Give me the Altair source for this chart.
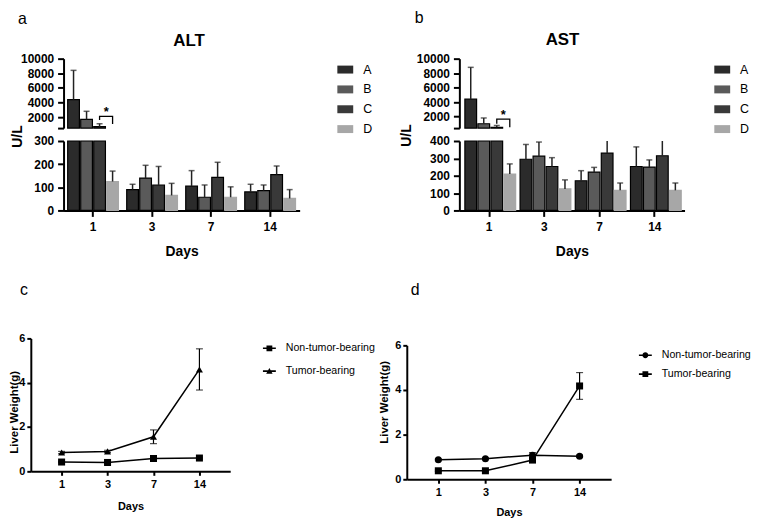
import altair as alt
import pandas as pd

FONT = "Liberation Sans"

days = ["1", "3", "7", "14"]
groups = ["A", "B", "C", "D"]
bar_colors = ["#2b2b2b", "#5a5a5a", "#393939", "#a7a7a7"]

# ALT (U/L): bar height and top of the error bar for days 1, 3, 7, 14
alt_mean = {"A": [4400, 90, 105, 80], "B": [1700, 140, 57, 86],
            "C": [700, 110, 143, 155], "D": [125, 65, 57, 52]}
alt_top = {"A": [8400, 113, 172, 113], "B": [2800, 195, 110, 110],
           "C": [1100, 190, 208, 192], "D": [170, 117, 102, 90]}

# AST (U/L)
ast_mean = {"A": [4400, 295, 171, 253], "B": [1000, 313, 221, 250],
            "C": [520, 253, 330, 315], "D": [210, 124, 116, 116]}
ast_top = {"A": [8800, 380, 229, 366], "B": [1800, 394, 248, 291],
           "C": [760, 304, 430, 440], "D": [268, 176, 158, 158]}

# significance bracket C -> D on day 1 (left leg, bar, bar, right leg)
alt_bracket = [1600, 2100, 2100, 1050]
ast_bracket = [1000, 1650, 1650, 530]

# liver weight (g), mean and SD
series = ["Non-tumor-bearing", "Tumor-bearing"]
c_mean = {"Non-tumor-bearing": [0.42, 0.40, 0.58, 0.60],
          "Tumor-bearing": [0.85, 0.90, 1.56, 4.60]}
c_sd = {"Non-tumor-bearing": [0.03, 0.03, 0.04, 0.04],
        "Tumor-bearing": [0.05, 0.05, 0.31, 0.93]}
d_mean = {"Non-tumor-bearing": [0.87, 0.92, 1.08, 1.03],
          "Tumor-bearing": [0.38, 0.38, 0.86, 4.18]}
d_sd = {"Non-tumor-bearing": [0.04, 0.04, 0.12, 0.05],
        "Tumor-bearing": [0.03, 0.04, 0.10, 0.60]}

# legend keys: a short line with the marker on it (all filled, same winding)
LINE = "M-1,-0.12H1V0.12H-1Z"
SQ = LINE + "M-0.45,-0.45H0.45V0.45H-0.45Z"
TRI = LINE + "M0,-0.5L0.5,0.4H-0.5Z"
CIR = LINE + "M0.45,0A0.45,0.45,0,1,1,-0.45,0A0.45,0.45,0,1,1,0.45,0Z"


def bar_panel(mean, top, bracket, name, letter, width, pads, up_min, low_max,
              low_ticks, name_x, name_y, ul_x, ul_y, legend_x, title_dx, title_off):
    df = pd.DataFrame([{"day": d, "group": g, "mean": mean[g][i], "top": top[g][i]}
                       for g in groups for i, d in enumerate(days)])
    br = pd.DataFrame({"day": "1", "group": ["C", "C", "D", "D"], "v": bracket, "i": [0, 1, 2, 3]})
    star = pd.DataFrame({"day": ["1"], "group": ["D"], "v": [bracket[1]]})

    xs = alt.Scale(type="band", domain=days, paddingInner=pads[0], paddingOuter=pads[1])
    x_axis = alt.Axis(title="Days", titleFontSize=14, titleY=45, titleBaseline="alphabetic",
                      labelFontSize=12, labelAngle=0, tickSize=6, labelPadding=5)
    x = alt.X("day:N", scale=xs, axis=x_axis)
    xo = alt.XOffset("group:N", scale=alt.Scale(domain=groups, paddingInner=0.1))
    up = alt.Scale(domain=[up_min, 10000], range=[70, 0], zero=False, nice=False, clamp=True)
    low = alt.Scale(domain=[0, low_max], range=[153, 83], nice=False, clamp=True)
    up_axis = alt.Axis(orient="left", values=[up_min, 2000, 4000, 6000, 8000, 10000], format="d",
                       labelExpr=f"datum.value == {up_min} ? '' : datum.label",
                       labelFontSize=12, tickSize=6, labelPadding=4,
                       title=name, titleAngle=0, titleAlign="center", titleBaseline="alphabetic",
                       titleX=name_x, titleY=name_y, titleFontSize=17)
    low_axis = alt.Axis(orient="left", values=low_ticks, format="d",
                        labelFontSize=12, tickSize=6, labelPadding=4,
                        title="U/L", titleAngle=270, titleAlign="center", titleBaseline="middle",
                        titleX=ul_x, titleY=ul_y, titleFontSize=14)
    legend = alt.Legend(title=None, orient="none", legendX=legend_x, legendY=3,
                        symbolType="M-1,-0.5H1V0.5H-1Z", symbolSize=256, symbolStrokeWidth=0,
                        labelFontSize=12.5, labelOffset=10, rowPadding=5)
    color = alt.Color("group:N", scale=alt.Scale(domain=groups, range=bar_colors), legend=legend)
    stroke = alt.condition("datum.group == 'D'", alt.value("#a7a7a7"), alt.value("black"))

    def uy(field):
        return alt.Y(field, scale=up, axis=up_axis, title=name, stack=False)

    def ly(field):
        return alt.Y(field, scale=low, axis=low_axis, title="U/L", stack=False)

    base = alt.Chart(df)
    day1 = "datum.day == '1' && datum.group != 'D'"
    upper = alt.layer(
        base.transform_filter(day1).mark_bar(strokeWidth=1.2).encode(
            x=x, xOffset=xo, y=uy("mean:Q"), y2=alt.datum(up_min), color=color, stroke=stroke),
        base.transform_filter(day1).mark_rule(color="#222", strokeWidth=1.5).encode(
            x=x, xOffset=xo, y=uy("mean:Q"), y2="top:Q"),
        base.transform_filter(day1).mark_tick(color="#222", size=6, thickness=1.5).encode(
            x=x, xOffset=xo, y=uy("top:Q")),
        alt.Chart(br).mark_line(color="black", strokeWidth=1.3).encode(
            x=x, xOffset=xo, y=uy("v:Q"), order="i:Q"),
        alt.Chart(star).mark_text(text="*", fontSize=13, fontWeight="bold", baseline="alphabetic",
                                  dx=-6.5, font=FONT).encode(
            x=x, xOffset=xo, y=uy("v:Q")),
    )
    lower = alt.layer(
        base.mark_bar(strokeWidth=1.2).encode(
            x=x, xOffset=xo, y=ly("mean:Q"), color=color, stroke=stroke),
        base.transform_filter(f"datum.mean <= {low_max}").mark_rule(color="#222", strokeWidth=1.5).encode(
            x=x, xOffset=xo, y=ly("mean:Q"), y2="top:Q"),
        base.transform_filter(f"datum.top <= {low_max}").mark_tick(color="#222", size=6, thickness=1.5).encode(
            x=x, xOffset=xo, y=ly("top:Q")),
    )
    return alt.layer(upper, lower).resolve_scale(y="independent").properties(
        width=width, height=153,
        title=alt.Title(letter, anchor="start", frame="group", dx=title_dx, offset=title_off,
                        fontSize=16, fontWeight="normal", baseline="alphabetic"))


def line_panel(mean, sd, letter, width, height, x_range, y_range, shapes, keys,
               legend_x, legend_y, row_pad, yt_x, yt_y, title_dx, title_off, days_y):
    df = pd.DataFrame([{"day": d, "s": s, "m": mean[s][i],
                        "lo": round(mean[s][i] - sd[s][i], 3), "hi": round(mean[s][i] + sd[s][i], 3)}
                       for s in series for i, d in enumerate(days)])
    xs = alt.Scale(type="point", domain=days, padding=0.67, range=x_range)
    ys = alt.Scale(domain=[0, 6], nice=False, range=y_range)
    x_axis = alt.Axis(title="Days", titleFontSize=11, titleY=days_y, titleBaseline="alphabetic",
                      labelFontSize=11, labelAngle=0, tickSize=4, labelPadding=3)
    y_axis = alt.Axis(orient="left", offset=-x_range[0], values=[0, 2, 4, 6],
                      labelFontSize=11, tickSize=4, labelPadding=2,
                      title="Liver Weight(g)", titleAngle=270, titleAlign="center", titleBaseline="middle",
                      titleX=yt_x, titleY=yt_y, titleFontSize=11.5)
    x = alt.X("day:N", scale=xs, axis=x_axis, title="Days")

    def y(field):
        return alt.Y(field, scale=ys, axis=y_axis, title="Liver Weight(g)")

    base = alt.Chart(df)
    line = base.mark_line(color="black", strokeWidth=1.5).encode(x=x, y=y("m:Q"), detail="s:N")
    err = base.mark_rule(color="black", strokeWidth=1.2).encode(x=x, y=y("lo:Q"), y2="hi:Q")
    cap_hi = base.mark_tick(color="black", size=7, thickness=1.2).encode(x=x, y=y("hi:Q"))
    cap_lo = base.mark_tick(color="black", size=7, thickness=1.2).encode(x=x, y=y("lo:Q"))
    pts = base.mark_point(filled=True, opacity=1, color="black", size=50).encode(
        x=x, y=y("m:Q"),
        shape=alt.Shape("s:N", scale=alt.Scale(domain=series, range=shapes), legend=None))
    key = base.transform_filter("false").mark_point(filled=True, opacity=1, color="black").encode(
        shape=alt.Shape("s:N", scale=alt.Scale(domain=series, range=keys), legend=alt.Legend(
            title=None, orient="none", legendX=legend_x, legendY=legend_y, symbolSize=169,
            symbolFillColor="black", labelFontSize=10.7, labelFontWeight="normal",
            labelOffset=9, rowPadding=row_pad)))
    return alt.layer(line, err, cap_hi, cap_lo, pts, key).resolve_scale(shape="independent").properties(
        width=width, height=height,
        title=alt.Title(letter, anchor="start", frame="group", dx=title_dx, offset=title_off,
                        fontSize=16, fontWeight="normal", baseline="alphabetic"))


panel_a = bar_panel(alt_mean, alt_top, alt_bracket, "ALT", "a", 238, (0.14, 0.07), 500, 300,
                    [0, 100, 200, 300], 126, -13, -46, 78, 276, -46, -8.5)
panel_b = bar_panel(ast_mean, ast_top, ast_bracket, "AST", "b", 227, (0.12, 0.10), 400, 400,
                    [0, 100, 200, 300, 400], 103.5, -14, -53, 77, 257, -45, -8.5)
# c shares its left edge with a (x = 64) in the layout, its own axis sits 33 px further left
panel_c = line_panel(c_mean, c_sd, "c", 168, 134, [-33, 168], [134, 0], ["square", "triangle-up"],
                     [SQ, TRI], 200, 2.5, 9, -16.5, 74, -44, 22, 38)
# d shares its top with c (y = 339) in the layout, its own axis starts 7 px lower
panel_d = line_panel(d_mean, d_sd, "d", 206, 142, [0, 206], [142, 7], ["circle", "square"],
                     [CIR, SQ], 233, 9.5, 5, -22, 64, 4, 28, 37)

row1 = alt.hconcat(panel_a, panel_b, spacing=25).resolve_scale(color="independent")
row2 = alt.hconcat(panel_c, panel_d, spacing=2).resolve_scale(shape="independent")

chart = alt.vconcat(row1, row2, spacing=22).resolve_scale(
    color="independent", shape="independent"
).properties(
    padding={"left": 0, "top": 0, "right": 0, "bottom": 0}
).configure(
    font=FONT
).configure_view(
    stroke="transparent"
).configure_axis(
    domainColor="black", domainWidth=2, tickColor="black", tickWidth=2,
    labelColor="black", titleColor="black", labelFont=FONT, titleFont=FONT,
    labelFontWeight="bold", titleFontWeight="bold", grid=False
).configure_legend(
    labelFont=FONT, labelColor="black"
).configure_title(
    font=FONT, color="black"
)

chart.save("out.html", embed_options={"renderer": "svg", "actions": False})
